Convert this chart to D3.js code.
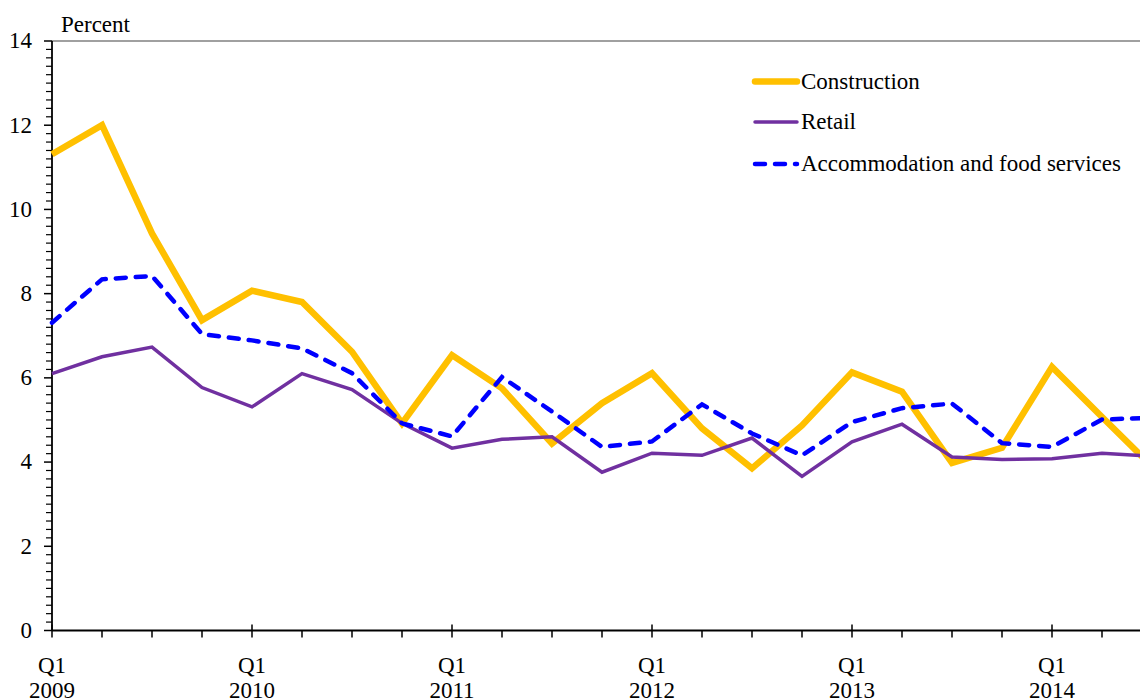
<!DOCTYPE html>
<html>
<head>
<meta charset="utf-8">
<script src="https://cdn.jsdelivr.net/npm/d3@7"></script>
<style>
  html, body { margin: 0; padding: 0; background: #fff; overflow: hidden; }
  svg { display: block; }
  text { font-family: "Liberation Serif", "Times New Roman", serif; fill: #000; }
</style>
</head>
<body>
<svg id="chart" width="1140" height="700"></svg>
<script>
// ---- Data ----
const quarters = [
  "2009Q1","2009Q2","2009Q3","2009Q4",
  "2010Q1","2010Q2","2010Q3","2010Q4",
  "2011Q1","2011Q2","2011Q3","2011Q4",
  "2012Q1","2012Q2","2012Q3","2012Q4",
  "2013Q1","2013Q2","2013Q3","2013Q4",
  "2014Q1","2014Q2","2014Q3"
];
const construction = [11.31, 12.0, 9.43, 7.37, 8.07, 7.80, 6.62, 4.92, 6.54, 5.75, 4.44, 5.40,
                      6.11, 4.80, 3.85, 4.87, 6.13, 5.67, 3.98, 4.34, 6.26, 5.07, 3.90];
const retail = [6.10, 6.50, 6.73, 5.77, 5.31, 6.10, 5.72, 4.92, 4.33, 4.54, 4.60, 3.76,
                4.21, 4.16, 4.57, 3.66, 4.48, 4.90, 4.12, 4.06, 4.08, 4.21, 4.14];
const accommodation = [7.31, 8.34, 8.42, 7.04, 6.89, 6.70, 6.11, 4.92, 4.61, 6.02, 5.20, 4.36,
                       4.49, 5.37, 4.68, 4.16, 4.95, 5.28, 5.39, 4.45, 4.36, 5.01, 5.05];
const seriesNames = ["Construction", "Retail", "Accommodation and food services"];
const yTicks = [0, 2, 4, 6, 8, 10, 12, 14];
const yLabel = "Percent";

// ---- Layout ----
const svg = d3.select("#chart");
const W = 1140;
const x0 = 52, xEnd = 1152;
const yTop = 41, yBottom = 630.5;
const FONT = 23;

const x = d3.scalePoint().domain(quarters).range([x0, xEnd]).padding(0);
const y = d3.scaleLinear().domain([0, 14]).range([yBottom, yTop]);

// top border
svg.append("line")
  .attr("x1", x0).attr("x2", W).attr("y1", y(14)).attr("y2", y(14))
  .attr("stroke", "#808080").attr("stroke-width", 1.5);

// y-axis: minor ticks every 0.2
const minor = d3.range(0, 14.0001, 0.2).map(v => +v.toFixed(1)).filter(v => !yTicks.includes(v));
const gy = svg.append("g");
gy.selectAll("line.minor").data(minor).join("line")
  .attr("x1", x0 - 6).attr("x2", x0)
  .attr("y1", d => y(d)).attr("y2", d => y(d))
  .attr("stroke", "#000").attr("stroke-width", 1.2);
gy.selectAll("line.major").data(yTicks).join("line")
  .attr("x1", x0 - 8).attr("x2", x0)
  .attr("y1", d => y(d)).attr("y2", d => y(d))
  .attr("stroke", "#000").attr("stroke-width", 1.5);
gy.selectAll("text").data(yTicks).join("text")
  .attr("x", 32).attr("y", d => y(d)).attr("dy", "0.32em")
  .attr("text-anchor", "end").attr("font-size", FONT)
  .text(d => d);
svg.append("line")
  .attr("x1", x0).attr("x2", x0).attr("y1", y(14)).attr("y2", y(0))
  .attr("stroke", "#000").attr("stroke-width", 1.8);

svg.append("text").attr("x", 61).attr("y", 32).attr("font-size", FONT).text(yLabel);

// x-axis
const gx = svg.append("g");
gx.selectAll("line").data(quarters).join("line")
  .attr("x1", d => x(d)).attr("x2", d => x(d))
  .attr("y1", d => d.endsWith("Q1") ? y(0) - 6 : y(0))
  .attr("y2", y(0) + 7)
  .attr("stroke", "#000").attr("stroke-width", 1.5);
svg.append("line")
  .attr("x1", x0).attr("x2", W).attr("y1", y(0)).attr("y2", y(0))
  .attr("stroke", "#000").attr("stroke-width", 1.8);
const q1 = quarters.filter(d => d.endsWith("Q1"));
const lbl = gx.selectAll("text").data(q1).join("text")
  .attr("text-anchor", "middle").attr("font-size", FONT);
lbl.append("tspan").attr("x", d => x(d)).attr("y", 673).text("Q1");
lbl.append("tspan").attr("x", d => x(d)).attr("y", 698).text(d => d.slice(0, 4));

// lines
const series = [
  { name: seriesNames[0], values: construction, color: "#FFC000", width: 6.5, dash: null },
  { name: seriesNames[1], values: retail, color: "#7030A0", width: 3.5, dash: null },
  { name: seriesNames[2], values: accommodation, color: "#0000FF", width: 4.5, dash: "10,10" }
];
const line = d3.line().x((d, i) => x(quarters[i])).y(d => y(d));
series.forEach(s => {
  svg.append("path").datum(s.values)
    .attr("d", line)
    .attr("fill", "none")
    .attr("stroke", s.color)
    .attr("stroke-width", s.width)
    .attr("stroke-linecap", s.dash ? "round" : "butt")
    .attr("stroke-linejoin", "miter")
    .attr("stroke-dasharray", s.dash);
});

// legend
const legY = [81.5, 122, 164];
series.forEach((s, i) => {
  svg.append("line")
    .attr("x1", 755).attr("x2", 797)
    .attr("y1", legY[i]).attr("y2", legY[i])
    .attr("stroke", s.color).attr("stroke-width", s.width)
    .attr("stroke-linecap", "round")
    .attr("stroke-dasharray", s.dash);
  svg.append("text").attr("x", 801).attr("y", legY[i]).attr("dy", "0.32em")
    .attr("font-size", FONT).text(s.name);
});
</script>
</body>
</html>
